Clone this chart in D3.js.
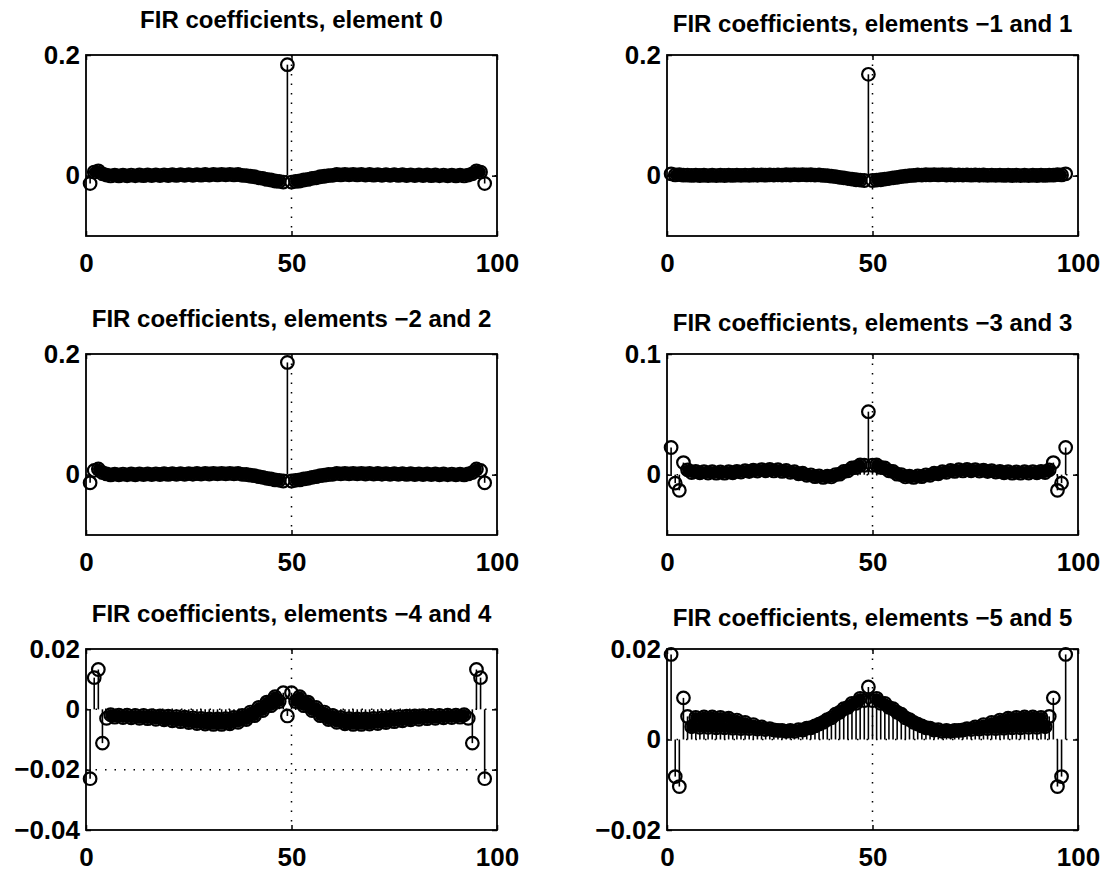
<!DOCTYPE html>
<html>
<head>
<meta charset="utf-8">
<script src="https://cdn.jsdelivr.net/npm/d3@7"></script>
<style>
  body { margin: 0; background: #fff; }
  svg text { font-family: "Liberation Sans", Arial, Helvetica, sans-serif; font-weight: bold; fill: #000; }
</style>
</head>
<body>
<svg id="chart" width="1107" height="873"></svg>
<script>
// panel titles, in reading order
var titles = [
  "FIR coefficients, element 0",
  "FIR coefficients, elements \u22121 and 1",
  "FIR coefficients, elements \u22122 and 2",
  "FIR coefficients, elements \u22123 and 3",
  "FIR coefficients, elements \u22124 and 4",
  "FIR coefficients, elements \u22125 and 5"
];

var yDomains = [[-0.1, 0.2], [-0.1, 0.2], [-0.1, 0.2], [-0.05, 0.1], [-0.04, 0.02], [-0.02, 0.02]];
var yTicks = [[0, 0.2], [0, 0.2], [0, 0.2], [0, 0.1], [-0.04, -0.02, 0, 0.02], [-0.02, 0, 0.02]];
var xTicks = [0, 50, 100];

// coefficient k sits at index k (1..97)
var coefE0 = [
  -0.0130, 0.0060, 0.0080, 0.0030, 0.0010, -0.0005, 0.0008, -0.0004, 0.0009, -0.0003,
  0.0010, -0.0002, 0.0011, 0.0000, 0.0012, 0.0001, 0.0013, 0.0002, 0.0014, 0.0003,
  0.0015, 0.0004, 0.0016, 0.0005, 0.0017, 0.0006, 0.0018, 0.0008, 0.0019, 0.0010,
  0.0021, 0.0012, 0.0022, 0.0013, 0.0022, 0.0012, 0.0019, 0.0005, 0.0002, -0.0010,
  -0.0018, -0.0035, -0.0045, -0.0062, -0.0072, -0.0088, -0.0095, -0.0106, 0.1840,
  -0.0106, -0.0095, -0.0088, -0.0072, -0.0062, -0.0045, -0.0035, -0.0018, -0.0010, 0.0002,
  0.0005, 0.0019, 0.0012, 0.0022, 0.0013, 0.0022, 0.0012, 0.0021, 0.0010, 0.0019,
  0.0008, 0.0018, 0.0006, 0.0017, 0.0005, 0.0016, 0.0004, 0.0015, 0.0003, 0.0014,
  0.0002, 0.0013, 0.0001, 0.0012, 0.0000, 0.0011, -0.0002, 0.0010, -0.0003, 0.0009,
  -0.0004, 0.0008, -0.0005, 0.0010, 0.0030, 0.0080, 0.0060, -0.0130
];

var coefE1 = [
  0.0030, 0.0012, 0.0016, 0.0008, 0.0010, 0.0004, 0.0008, 0.0003, 0.0007, 0.0002,
  0.0007, 0.0002, 0.0007, 0.0003, 0.0008, 0.0004, 0.0009, 0.0005, 0.0010, 0.0006,
  0.0011, 0.0007, 0.0012, 0.0008, 0.0013, 0.0009, 0.0014, 0.0010, 0.0015, 0.0011,
  0.0016, 0.0012, 0.0016, 0.0012, 0.0015, 0.0010, 0.0012, 0.0004, 0.0001, -0.0009,
  -0.0015, -0.0028, -0.0036, -0.0049, -0.0057, -0.0068, -0.0074, -0.0080, 0.1680,
  -0.0080, -0.0074, -0.0068, -0.0057, -0.0049, -0.0036, -0.0028, -0.0015, -0.0009, 0.0001,
  0.0004, 0.0012, 0.0010, 0.0015, 0.0012, 0.0016, 0.0012, 0.0016, 0.0011, 0.0015,
  0.0010, 0.0014, 0.0009, 0.0013, 0.0008, 0.0012, 0.0007, 0.0011, 0.0006, 0.0010,
  0.0005, 0.0009, 0.0004, 0.0008, 0.0003, 0.0007, 0.0002, 0.0007, 0.0002, 0.0007,
  0.0003, 0.0008, 0.0004, 0.0010, 0.0008, 0.0016, 0.0012, 0.0030
];

var coefE2 = [
  -0.0135, 0.0070, 0.0095, 0.0035, 0.0012, -0.0004, 0.0009, -0.0003, 0.0010, -0.0002,
  0.0011, -0.0001, 0.0012, 0.0001, 0.0013, 0.0002, 0.0014, 0.0003, 0.0015, 0.0004,
  0.0016, 0.0005, 0.0017, 0.0006, 0.0018, 0.0007, 0.0019, 0.0009, 0.0020, 0.0011,
  0.0022, 0.0013, 0.0023, 0.0014, 0.0023, 0.0013, 0.0020, 0.0006, 0.0003, -0.0009,
  -0.0017, -0.0034, -0.0044, -0.0061, -0.0071, -0.0087, -0.0094, -0.0105, 0.1860,
  -0.0105, -0.0094, -0.0087, -0.0071, -0.0061, -0.0044, -0.0034, -0.0017, -0.0009, 0.0003,
  0.0006, 0.0020, 0.0013, 0.0023, 0.0014, 0.0023, 0.0013, 0.0022, 0.0011, 0.0020,
  0.0009, 0.0019, 0.0007, 0.0018, 0.0006, 0.0017, 0.0005, 0.0016, 0.0004, 0.0015,
  0.0003, 0.0014, 0.0002, 0.0013, 0.0001, 0.0012, -0.0001, 0.0011, -0.0002, 0.0010,
  -0.0003, 0.0009, -0.0004, 0.0012, 0.0035, 0.0095, 0.0070, -0.0135
];

var coefE3 = [
  0.0225, -0.0070, -0.0130, 0.0100, 0.0040, 0.0018, 0.0028, 0.0015, 0.0026, 0.0014,
  0.0024, 0.0012, 0.0022, 0.0012, 0.0024, 0.0016, 0.0028, 0.0021, 0.0033, 0.0026,
  0.0038, 0.0030, 0.0042, 0.0032, 0.0043, 0.0031, 0.0041, 0.0027, 0.0035, 0.0019,
  0.0025, 0.0007, 0.0012, -0.0006, -0.0001, -0.0017, -0.0010, -0.0023, -0.0012, -0.0019,
  0.0001, 0.0004, 0.0027, 0.0032, 0.0056, 0.0060, 0.0080, 0.0078, 0.0522,
  0.0078, 0.0080, 0.0060, 0.0056, 0.0032, 0.0027, 0.0004, 0.0001, -0.0019, -0.0012,
  -0.0023, -0.0010, -0.0017, -0.0001, -0.0006, 0.0012, 0.0007, 0.0025, 0.0019, 0.0035,
  0.0027, 0.0041, 0.0031, 0.0043, 0.0032, 0.0042, 0.0030, 0.0038, 0.0026, 0.0033,
  0.0021, 0.0028, 0.0016, 0.0024, 0.0012, 0.0022, 0.0012, 0.0024, 0.0014, 0.0026,
  0.0015, 0.0028, 0.0018, 0.0040, 0.0100, -0.0130, -0.0070, 0.0225
];

var coefE4 = [
  -0.0230, 0.0105, 0.0132, -0.0112, -0.0030, -0.0018, -0.0026, -0.0019, -0.0027, -0.0019,
  -0.0028, -0.0020, -0.0030, -0.0020, -0.0031, -0.0021, -0.0033, -0.0022, -0.0035, -0.0023,
  -0.0038, -0.0024, -0.0041, -0.0026, -0.0044, -0.0028, -0.0047, -0.0030, -0.0049, -0.0032,
  -0.0050, -0.0032, -0.0050, -0.0031, -0.0048, -0.0027, -0.0043, -0.0020, -0.0034, -0.0009,
  -0.0021, 0.0006, -0.0004, 0.0024, 0.0012, 0.0042, 0.0026, 0.0055, -0.0022,
  0.0055, 0.0026, 0.0042, 0.0012, 0.0024, -0.0004, 0.0006, -0.0021, -0.0009, -0.0034,
  -0.0020, -0.0043, -0.0027, -0.0048, -0.0031, -0.0050, -0.0032, -0.0050, -0.0032, -0.0049,
  -0.0030, -0.0047, -0.0028, -0.0044, -0.0026, -0.0041, -0.0024, -0.0038, -0.0023, -0.0035,
  -0.0022, -0.0033, -0.0021, -0.0031, -0.0020, -0.0030, -0.0020, -0.0028, -0.0019, -0.0027,
  -0.0019, -0.0026, -0.0018, -0.0030, -0.0112, 0.0132, 0.0105, -0.0230
];

var coefE5 = [
  0.0188, -0.0082, -0.0104, 0.0092, 0.0051, 0.0028, 0.0049, 0.0027, 0.0050, 0.0027,
  0.0050, 0.0026, 0.0049, 0.0026, 0.0047, 0.0025, 0.0043, 0.0024, 0.0038, 0.0024,
  0.0033, 0.0023, 0.0028, 0.0022, 0.0024, 0.0021, 0.0020, 0.0020, 0.0018, 0.0020,
  0.0018, 0.0022, 0.0021, 0.0025, 0.0026, 0.0030, 0.0034, 0.0038, 0.0044, 0.0048,
  0.0056, 0.0060, 0.0068, 0.0071, 0.0080, 0.0080, 0.0091, 0.0086, 0.0116,
  0.0086, 0.0091, 0.0080, 0.0080, 0.0071, 0.0068, 0.0060, 0.0056, 0.0048, 0.0044,
  0.0038, 0.0034, 0.0030, 0.0026, 0.0025, 0.0021, 0.0022, 0.0018, 0.0020, 0.0018,
  0.0020, 0.0020, 0.0021, 0.0024, 0.0022, 0.0028, 0.0023, 0.0033, 0.0024, 0.0038,
  0.0024, 0.0043, 0.0025, 0.0047, 0.0026, 0.0049, 0.0026, 0.0050, 0.0027, 0.0050,
  0.0027, 0.0049, 0.0028, 0.0051, 0.0092, -0.0104, -0.0082, 0.0188
];

var series = [coefE0, coefE1, coefE2, coefE3, coefE4, coefE5];

var svg = d3.select("#chart"),
  colLeft = [86, 667],
  rowTop = [55, 354, 649],
  titleGap = [27, 23],
  boxW = 411,
  boxH = 181;

var fmt = d3.format("");

series.forEach(function(values, p) {
  var left = colLeft[p % 2],
    top = rowTop[Math.floor(p / 2)];

  var x = d3.scaleLinear().domain([0, 100]).range([0, boxW]);
  var y = d3.scaleLinear().domain(yDomains[p]).range([boxH, 0]);

  var g = svg.append("g")
    .attr("transform", "translate(" + left + "," + top + ")");

  // dotted grid at the inner ticks
  g.append("g")
    .selectAll("line")
    .data(xTicks.filter(function(d) { return d > 0 && d < 100; }))
    .enter().append("line")
    .attr("x1", x).attr("x2", x)
    .attr("y1", 0).attr("y2", boxH)
    .attr("stroke", "#000")
    .attr("stroke-width", 1.5)
    .attr("stroke-dasharray", "1.5,8");

  g.append("g")
    .selectAll("line")
    .data(yTicks[p].filter(function(d) { return d > yDomains[p][0] && d < yDomains[p][1]; }))
    .enter().append("line")
    .attr("x1", 0).attr("x2", boxW)
    .attr("y1", y).attr("y2", y)
    .attr("stroke", "#000")
    .attr("stroke-width", 1.5)
    .attr("stroke-dasharray", "1.5,8");

  // axes, ticks pointing inward like MATLAB
  g.append("g")
    .attr("class", "axis")
    .call(d3.axisLeft(y).tickValues(yTicks[p]).tickSize(-5).tickPadding(6).tickFormat(fmt));

  g.append("g")
    .attr("class", "axis")
    .attr("transform", "translate(" + boxW + ",0)")
    .call(d3.axisRight(y).tickValues(yTicks[p]).tickSize(-5).tickFormat(""));

  g.append("g")
    .attr("class", "axis")
    .attr("transform", "translate(0," + boxH + ")")
    .call(d3.axisBottom(x).tickValues(xTicks).tickSize(-5).tickPadding(18).tickFormat(fmt));

  g.append("g")
    .attr("class", "axis")
    .call(d3.axisTop(x).tickValues(xTicks).tickSize(-5).tickFormat(""));

  g.selectAll(".axis .domain").remove();
  g.selectAll(".axis line").attr("stroke", "#000").attr("stroke-width", 1.5);
  g.selectAll(".axis text")
    .style("font-size", "26px")
    .style("font-family", "'Liberation Sans', Arial, sans-serif")
    .style("font-weight", "bold");

  g.append("rect")
    .attr("width", boxW)
    .attr("height", boxH)
    .attr("fill", "none")
    .attr("stroke", "#000")
    .attr("stroke-width", 1.8);

  var pts = values.map(function(d, i) { return { v: d, px: x(i + 1), py: y(d) }; });

  // stems
  g.append("g")
    .selectAll("line")
    .data(pts)
    .enter().append("line")
    .attr("x1", function(d) { return d.px; })
    .attr("x2", function(d) { return d.px; })
    .attr("y1", y(0))
    .attr("y2", function(d) { return d.py; })
    .attr("stroke", "#000")
    .attr("stroke-width", 1.6);

  // where markers pile up into a band the ink closes the gaps; fill the
  // markers whose neighbours on both sides overlap them
  function near(a, b) { return Math.hypot(a.px - b.px, a.py - b.py) < 13; }
  var packed = pts.filter(function(d, i) {
    return i > 0 && i < pts.length - 1 && near(d, pts[i - 1]) && near(d, pts[i + 1]);
  });

  g.append("g")
    .selectAll("circle")
    .data(packed)
    .enter().append("circle")
    .attr("cx", function(d) { return d.px; })
    .attr("cy", function(d) { return d.py; })
    .attr("r", 5.4)
    .attr("fill", "#000");

  g.append("g")
    .selectAll("circle")
    .data(pts)
    .enter().append("circle")
    .attr("cx", function(d) { return d.px; })
    .attr("cy", function(d) { return d.py; })
    .attr("r", 6.3)
    .attr("fill", "none")
    .attr("stroke", "#000")
    .attr("stroke-width", 2.2);

  g.append("text")
    .attr("x", boxW / 2)
    .attr("y", -titleGap[p % 2])
    .attr("text-anchor", "middle")
    .style("font-size", "24px")
    .text(titles[p]);
});
</script>
</body>
</html>
